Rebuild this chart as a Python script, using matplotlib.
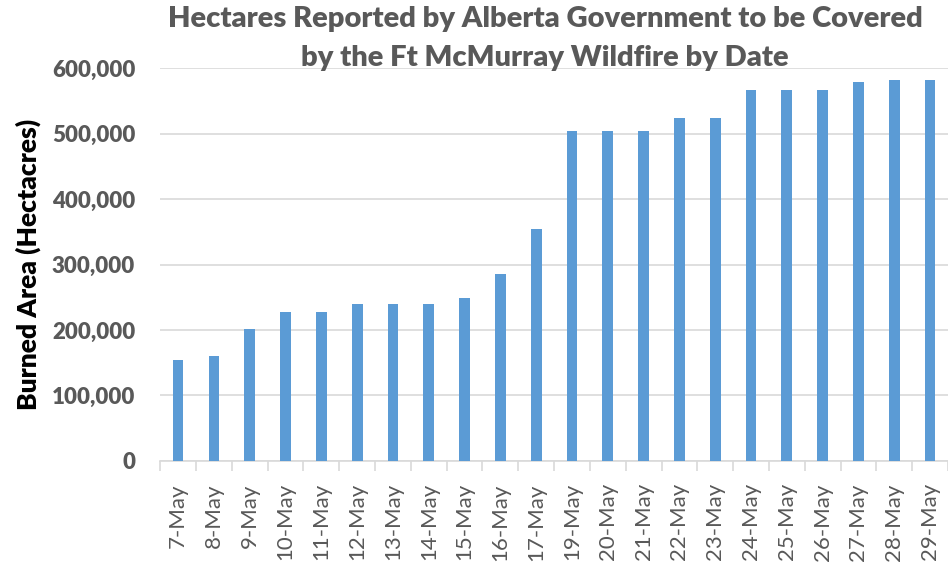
import numpy as np
import matplotlib.pyplot as plt

# Burned area by date
dates = ['7-May', '8-May', '9-May', '10-May', '11-May', '12-May', '13-May',
         '14-May', '15-May', '16-May', '17-May', '19-May', '20-May', '21-May',
         '22-May', '23-May', '24-May', '25-May', '26-May', '27-May', '28-May',
         '29-May']
hectares = [154500, 160500, 201500, 227500, 227500, 240000, 240000,
            240000, 249500, 285000, 354000, 504500, 504500, 504500,
            523500, 523500, 566000, 566000, 566000, 579000, 581500,
            581500]
y_ticks = [0, 100000, 200000, 300000, 400000, 500000, 600000]

plt.rcParams['font.family'] = ['Lato', 'DejaVu Sans']

fig = plt.figure(figsize=(9.48, 5.67), dpi=100)
ax = fig.add_axes([0.169, 0.187, 0.831, 0.693])

x = np.arange(len(dates))
ax.bar(x, hectares, width=0.3, color='#5B9BD5', zorder=3)

ax.set_xlim(-0.5, len(dates) - 0.5)
ax.set_ylim(0, 600000)
ax.set_yticks(y_ticks)
ax.set_yticklabels([f'{v:,}' for v in y_ticks], fontsize=16,
                   fontweight='heavy', color='#595959')
ax.set_xticks(x)
ax.set_xticklabels(dates, rotation=90, fontsize=16, color='#595959')
ax.set_xticks(np.arange(len(dates) + 1) - 0.5, minor=True)
ax.tick_params(axis='x', which='major', length=0, pad=16)
ax.tick_params(axis='x', which='minor', length=7, color='#D9D9D9', width=1.2)
ax.tick_params(axis='y', length=0, pad=18)

ax.grid(axis='y', color='#D9D9D9', linewidth=1.2, zorder=0)
for s in ['top', 'right', 'left']:
    ax.spines[s].set_visible(False)
ax.spines['bottom'].set_color('#D9D9D9')
ax.spines['bottom'].set_linewidth(1.2)

ax.set_ylabel('Burned Area (Hectacres)', fontsize=19, fontweight='heavy',
              color='black', labelpad=8)
fig.text(0.575, 0.99, 'Hectares Reported by Alberta Government to be Covered\n'
         'by the Ft McMurray Wildfire by Date', ha='center', va='top',
         fontsize=21, fontweight='heavy', color='#595959', linespacing=1.65)

fig.savefig('out.png', dpi=100)
